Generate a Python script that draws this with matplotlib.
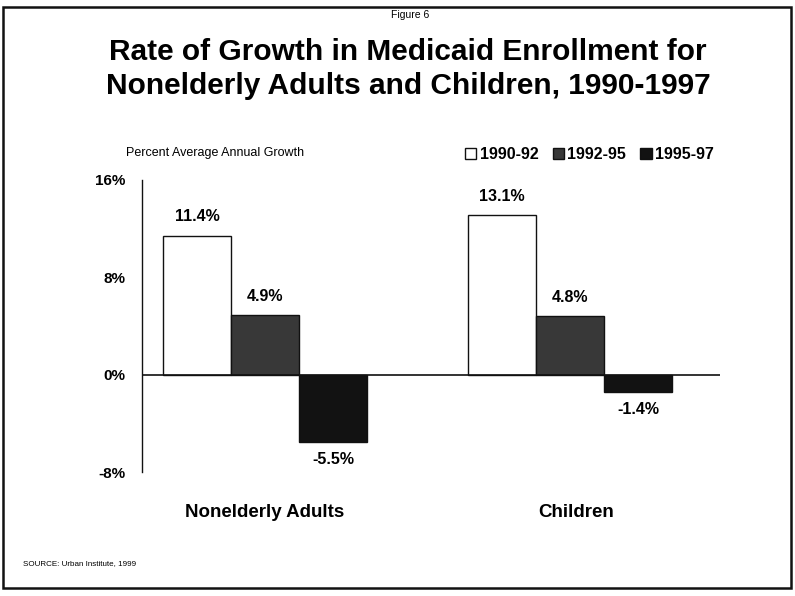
import matplotlib
matplotlib.use("Agg")
import matplotlib.pyplot as plt
from matplotlib.patches import Rectangle, Patch
import numpy as np

plt.rcParams['font.family'] = ['Liberation Sans', 'DejaVu Sans']

categories = ["Nonelderly Adults", "Children"]
periods = ["1990-92", "1992-95", "1995-97"]
growth_1990_92 = [11.4, 13.1]
growth_1992_95 = [4.9, 4.8]
growth_1995_97 = [-5.5, -1.4]
yticks = [-8, 0, 8, 16]
ytick_labels = ["-8%", "0%", "8%", "16%"]

series = [growth_1990_92, growth_1992_95, growth_1995_97]
colors = ["#ffffff", "#383838", "#121212"]

fig = plt.figure(figsize=(7.95, 5.96), dpi=100)
ax = fig.add_axes([142 / 795, 1 - 472 / 596, (720 - 142) / 795, (472 - 180) / 596])

x = np.arange(len(categories))
w = 0.223
for i, (vals, col) in enumerate(zip(series, colors)):
    pos = x + (i - 1) * w
    bars = ax.bar(pos, vals, width=w, color=col, edgecolor="#111111", linewidth=1.0,
                  label=periods[i], zorder=2)
    for b, v in zip(bars, vals):
        off = 19 if v >= 0 else -18
        ax.annotate(f"{v:.1f}%", (b.get_x() + b.get_width() / 2, v),
                    xytext=(0, off * 0.72), textcoords="offset points",
                    ha="center", va="center", fontsize=11.5, fontweight="bold")

ax.set_xlim(-0.403, 1.492)
ax.set_ylim(-8, 16)
ax.axhline(0, color="#111111", lw=1.2, zorder=3)
for s in ["top", "right", "bottom"]:
    ax.spines[s].set_visible(False)
ax.spines["left"].set_linewidth(1.0)
ax.spines["left"].set_color("#111111")
ax.set_yticks(yticks)
ax.set_yticklabels(ytick_labels, fontsize=11, fontweight="bold")
ax.tick_params(axis="y", length=0, pad=12)
ax.set_xticks([])
for xi, c in zip(x, categories):
    ax.text(xi + (0.02 if xi == 1 else 0), -0.14, c, transform=ax.get_xaxis_transform(),
            ha="center", va="center", fontsize=13.5, fontweight="bold")

# Legend
handles = [Patch(facecolor=c, edgecolor="#111111", linewidth=1.0) for c in colors]
leg = fig.legend(handles, periods, loc="center right", bbox_to_anchor=(720 / 795, 1 - 155 / 596),
                 ncol=3, frameon=False, handlelength=0.7, handleheight=0.7,
                 handletextpad=0.2, columnspacing=0.9, borderaxespad=0,
                 prop={"size": 11.5, "weight": "bold"})

# Texts
fig.text(410 / 795, 1 - 15 / 596, "Figure 6", ha="center", va="center", fontsize=7.5)
fig.text(408 / 795, 1 - 69 / 596,
         "Rate of Growth in Medicaid Enrollment for\nNonelderly Adults and Children, 1990-1997",
         ha="center", va="center", fontsize=21.5, fontweight="bold", linespacing=1.3)
fig.text(126 / 795, 1 - 153 / 596, "Percent Average Annual Growth", ha="left", va="center",
         fontsize=9)
fig.text(23 / 795, 1 - 564 / 596, "SOURCE: Urban Institute, 1999", ha="left", va="center",
         fontsize=5.8)

# Frame
fig.patches.append(Rectangle((3 / 795, 1 - 588 / 596), (791 - 3) / 795, (588 - 7) / 596,
                             transform=fig.transFigure, fill=False, edgecolor="#111111",
                             linewidth=1.8))

fig.savefig("out.png", dpi=100)
